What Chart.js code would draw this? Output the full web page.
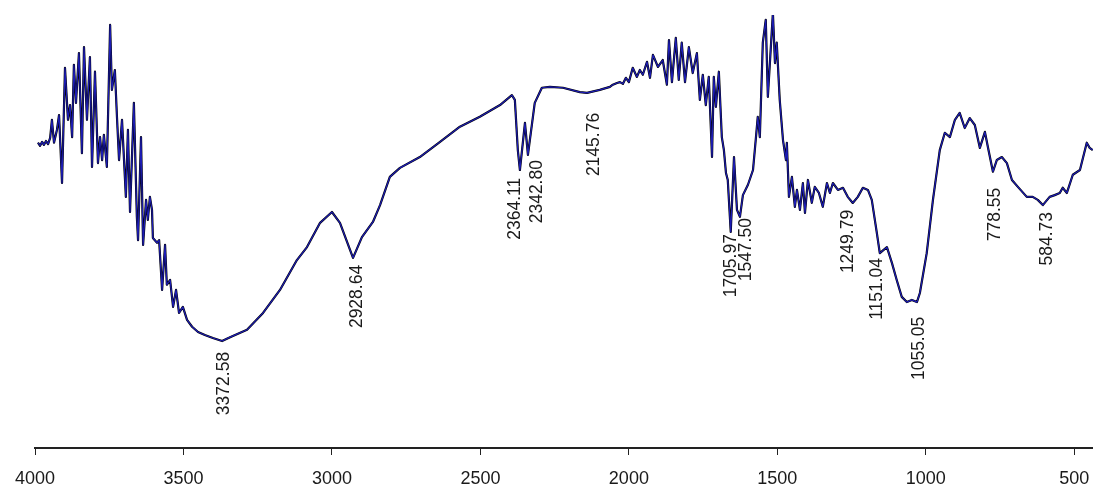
<!DOCTYPE html>
<html>
<head>
<meta charset="utf-8">
<script src="https://cdn.jsdelivr.net/npm/chart.js@4/dist/chart.umd.min.js"></script>
<style>
  html, body { margin: 0; padding: 0; background: #ffffff; }
  #wrap { width: 1093px; height: 490px; position: relative; }
</style>
</head>
<body>
<div id="wrap"><canvas id="c" width="1093" height="490"></canvas></div>
<script>
// Wavenumber (cm-1) and transmittance (%T, arbitrary scale)
const wavenumbers = [
  3990,3983,3976,3970,3963,3956,3949,3943,3936,3926,3919,3909,3899,3889,3882,3875,3869,3862,3852,3842,
  3835,3825,3815,3808,3798,3788,3781,3774,3768,3758,3747,3741,3731,3724,3717,3707,3694,3687,3680,3667,
  3657,3653,3643,3636,3626,3620,3613,3606,3603,3589,3582,3572,3562,3556,3545,3535,3525,3515,3502,3488,
  3471,3451,3428,3401,3370,3343,3286,3232,3175,3118,3084,3040,3000,2973,2929,2899,2862,2838,2805,2771,
  2704,2636,2569,2502,2434,2394,2384,2374,2367,2350,2340,2317,2293,2266,2222,2165,2141,2098,2064,2054,
  2040,2030,2020,2010,2000,1987,1973,1963,1953,1939,1929,1919,1902,1886,1872,1865,1855,1842,1832,1822,
  1811,1798,1785,1771,1761,1751,1741,1731,1720,1714,1707,1697,1687,1680,1673,1667,1657,1646,1636,1626,
  1616,1599,1582,1572,1566,1559,1549,1539,1532,1515,1508,1502,1492,1481,1471,1468,1461,1451,1441,1434,
  1424,1414,1407,1397,1384,1374,1360,1347,1333,1323,1313,1296,1279,1263,1246,1229,1212,1195,1182,1165,
  1155,1131,1114,1098,1081,1064,1047,1030,1020,997,976,953,936,919,902,886,869,852,835,818,
  801,791,774,761,744,727,710,690,660,640,623,606,583,566,549,539,525,505,481,458,
  448,438
];
const transmittance = [
  70.5,69.8,70.7,70.0,70.9,70.2,71.6,75.8,70.5,73.5,76.9,61.2,87.8,75.8,79.2,71.8,88.5,79.7,91.2,68.1,
  92.6,75.8,90.3,64.9,86.9,65.8,71.8,66.5,72.3,64.9,97.7,82.7,87.3,76.5,66.5,75.8,58.0,73.5,54.5,79.7,
  53.4,48.0,71.8,46.9,57.3,52.7,58.0,55.0,48.5,47.4,48.0,36.5,46.9,37.7,38.8,32.6,36.5,31.2,32.6,29.6,
  28.0,26.8,26.1,25.4,24.7,25.6,27.3,31.2,36.5,43.4,46.4,52.0,54.5,52.0,43.9,48.7,52.2,56.1,62.6,64.7,
  67.2,70.7,74.2,76.5,79.2,81.5,80.4,68.8,64.2,75.1,67.7,79.7,83.2,83.4,83.2,82.2,82.0,82.7,83.4,83.9,
  84.3,84.5,84.1,85.5,84.5,87.8,85.7,87.3,86.2,89.2,85.5,90.8,88.0,89.6,83.9,94.2,84.5,94.7,85.0,93.6,
  84.5,92.6,86.6,91.2,80.4,86.2,79.2,85.7,67.2,85.7,78.8,86.9,71.8,68.8,63.5,61.9,49.9,67.2,55.0,53.4,
  58.4,60.8,64.2,71.8,76.5,71.8,93.6,98.9,81.1,100.5,88.9,93.6,80.4,71.1,66.5,70.5,58.0,62.6,55.7,59.6,
  55.0,61.2,54.3,61.9,56.6,60.3,58.9,55.7,61.2,58.9,61.2,59.6,60.1,58.0,56.6,58.0,60.1,59.6,57.3,49.7,
  45.0,46.4,42.7,38.8,34.9,33.7,34.2,33.7,35.8,45.0,57.3,68.8,72.8,71.8,75.8,77.4,73.9,76.2,74.6,69.3,
  73.0,69.5,63.8,66.5,67.2,65.8,61.9,60.3,58.0,58.0,57.3,56.1,58.0,58.4,58.9,60.1,58.9,63.1,64.2,70.5,
  69.3,68.8
];
const tickValues = [4000, 3500, 3000, 2500, 2000, 1500, 1000, 500];
// Peak annotations: text, anchor wavenumber, anchor %T (top end of the rotated text)
const peakLabels = ["3372.58","2928.64","2364.11","2342.80","2145.76","1705.97","1547.50","1249.79","1151.04","1055.05","778.55","584.73"];
const peakLabelX = [3364, 2916, 2384, 2310, 2118, 1657, 1606, 1263, 1165, 1024, 768, 593];
const peakLabelY = [22.2, 42.3, 62.4, 66.5, 77.4, 49.4, 53.1, 55.0, 43.9, 30.3, 60.1, 54.5];

const points = wavenumbers.map((w, i) => ({ x: w, y: transmittance[i] }));

const peakLabelPlugin = {
  id: 'peakLabels',
  afterDatasetsDraw(chart) {
    const ctx = chart.ctx;
    const xs = chart.scales.x, ys = chart.scales.y;
    ctx.save();
    ctx.fillStyle = '#1a1a1a';
    ctx.font = '17.5px "Liberation Sans", Arial, sans-serif';
    ctx.textAlign = 'right';
    ctx.textBaseline = 'middle';
    peakLabels.forEach((t, i) => {
      const px = xs.getPixelForValue(peakLabelX[i]);
      const py = ys.getPixelForValue(peakLabelY[i]);
      ctx.save();
      ctx.translate(px, py);
      ctx.rotate(-Math.PI / 2);
      ctx.fillText(t, 0, 0);
      ctx.restore();
    });
    ctx.restore();
  }
};

new Chart(document.getElementById('c'), {
  type: 'line',
  data: {
    datasets: [
      { data: points, borderColor: '#1c1cb4', borderWidth: 1.2, pointRadius: 0, tension: 0, fill: false },
      { data: points, borderColor: '#000000', borderWidth: 2.2, pointRadius: 0, tension: 0, fill: false }
    ]
  },
  options: {
    responsive: false,
    animation: false,
    layout: { padding: { left: 35, right: 0, top: 15, bottom: 0 } },
    plugins: { legend: { display: false }, tooltip: { enabled: false } },
    elements: { line: { borderJoinStyle: 'round' } },
    scales: {
      x: {
        type: 'linear',
        reverse: true,
        min: 437,
        max: 4000,
        afterBuildTicks: (scale) => { scale.ticks = tickValues.map(v => ({ value: v })); },
        afterFit: (scale) => { scale.height = 42; scale.paddingLeft = 0; scale.paddingRight = 0; },
        grid: { display: true, drawOnChartArea: false, drawTicks: true, tickLength: 7, color: '#222222', lineWidth: 1 },
        border: { display: true, color: '#222222', width: 2 },
        ticks: {
          autoSkip: false, maxRotation: 0, padding: 13, color: '#1a1a1a',
          font: { family: '"Liberation Sans", Arial, sans-serif', size: 18 },
          callback: (v) => String(v)
        }
      },
      y: { type: 'linear', min: 0, max: 100, display: false }
    }
  },
  plugins: [peakLabelPlugin]
});
</script>
</body>
</html>
